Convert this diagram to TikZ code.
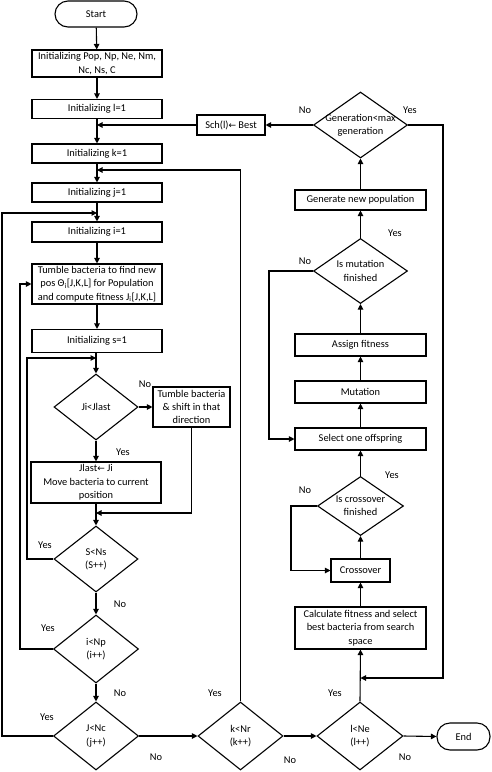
\documentclass[tikz,border=0pt]{standalone}
\usepackage{fontspec}
\setmainfont{Carlito}
\newfontfamily\arrowfont{DejaVu Sans}
\usetikzlibrary{shapes.geometric,arrows.meta}
\newcommand{\myleft}{{\arrowfont\fontsize{9}{10}\selectfont ←}}
\begin{document}
\begin{tikzpicture}[x=1pt,y=-1pt,
  font=\fontsize{10.4}{13.3}\selectfont,
  line width=1.1pt,
  box/.style={draw, rectangle, align=center, inner sep=1pt},
  term/.style={draw, rectangle, rounded corners=13pt, inner sep=1pt},
  dia/.style={draw, diamond, inner sep=0pt},
  arr/.style={-{Triangle[length=5.5pt,width=5.5pt]}},
  lbl/.style={inner sep=0pt}]
\useasboundingbox (0,0) rectangle (491,772);

% left column
\node[term, minimum width=82pt, minimum height=26pt] (start) at (96,14) {Start};
\node[box, minimum width=130pt, minimum height=27pt] (pop) at (97,63.5) {Initializing Pop, Np, Ne, Nm,\\Nc, Ns, C};
\node[box, minimum width=130pt, minimum height=19pt] (l1) at (97,109) {Initializing l=1};
\node[box, minimum width=130pt, minimum height=19pt] (k1) at (97,153.5) {Initializing k=1};
\node[box, minimum width=130pt, minimum height=19pt] (j1) at (97,192.5) {Initializing j=1};
\node[box, minimum width=130pt, minimum height=20pt] (i1) at (97,232) {Initializing i=1};
\node[box, minimum width=130pt, minimum height=40pt] (tumble) at (97,284) {Tumble bacteria to find new\\pos Θ\textsubscript{i}[J,K,L] for Population\\and compute fitness J\textsubscript{i}[J,K,L]};
\node[box, minimum width=130pt, minimum height=23pt] (s1) at (97,341) {Initializing s=1};
\node[dia, minimum width=84pt, minimum height=66pt, label={[align=center]center:Ji<Jlast}] (d1) at (96,407) {};
\node[box, minimum width=77pt, minimum height=40pt] (tb) at (191.5,407) {Tumble bacteria\\\& shift in that\\direction};
\node[box, minimum width=130pt, minimum height=41pt] (jl) at (96,482.5) {Jlast\myleft{} Ji\\Move bacteria to current\\position};
\node[dia, minimum width=84pt, minimum height=66pt, label={[align=center]center:S<Ns\\(S++)}] (d2) at (96,559) {};
\node[dia, minimum width=85pt, minimum height=68pt, label={[align=center]center:i<Np\\(i++)}] (d3) at (96,649) {};
\node[dia, minimum width=85pt, minimum height=68pt, label={[align=center]center:J<Nc\\(j++)}] (d4) at (96,736) {};
\node[dia, minimum width=85pt, minimum height=68pt, label={[align=center]center:k<Nr\\(k++)}] (d5) at (240.5,736) {};
\node[dia, minimum width=86pt, minimum height=68pt, label={[align=center]center:l<Ne\\(l++)}] (d6) at (360,736) {};
\node[term, minimum width=53pt, minimum height=27pt] (end) at (463.5,736.5) {End};

% right column
\node[box, minimum width=131pt, minimum height=42pt] (calc) at (360.5,628) {Calculate fitness and select\\best bacteria from search\\space};
\node[box, minimum width=59pt, minimum height=23pt] (cross) at (360.5,570.5) {Crossover};
\node[dia, minimum width=86pt, minimum height=59pt, label={[align=center]center:Is crossover\\finished}] (d7) at (360.5,506) {};
\node[box, minimum width=131pt, minimum height=22pt] (sel) at (360.5,439) {Select one offspring};
\node[box, minimum width=131pt, minimum height=22pt] (mut) at (360.5,392) {Mutation};
\node[box, minimum width=131pt, minimum height=22pt] (assign) at (360.5,345) {Assign fitness};
\node[dia, minimum width=94pt, minimum height=65pt, label={[align=center]center:Is mutation\\finished}] (d8) at (360.5,271) {};
\node[box, minimum width=131pt, minimum height=20pt] (gen) at (360.5,200) {Generate new population};
\node[dia, minimum width=94pt, minimum height=66pt, label={[align=center]center:Generation<max\\generation}] (g) at (360.5,125) {};
\node[box, minimum width=68pt, minimum height=20pt] (sch) at (231,125) {Sch(l)\myleft{} Best};

% junction coordinates
\coordinate (jA) at (97,125);
\coordinate (jB) at (97,170);
\coordinate (jC) at (97,213);
\coordinate (jD) at (96,358);
\coordinate (jE) at (96,513);
\coordinate (jF) at (360.5,678);

% yes / no labels
\node[lbl] (n1) at (145,384) {No};
\node[lbl] (y1) at (123,452) {Yes};
\node[lbl] (y2) at (45,545) {Yes};
\node[lbl] (n2) at (120,604) {No};
\node[lbl] (y3) at (48,628) {Yes};
\node[lbl] (n3) at (120,693) {No};
\node[lbl] (y4) at (47,717) {Yes};
\node[lbl] (n4) at (156,757) {No};
\node[lbl] (y5) at (215,693) {Yes};
\node[lbl] (n5) at (290,760) {No};
\node[lbl] (y6) at (335,693) {Yes};
\node[lbl] (n6) at (405,757) {No};
\node[lbl] (y7) at (392,475) {Yes};
\node[lbl] (n7) at (305,490) {No};
\node[lbl] (y8) at (395,233) {Yes};
\node[lbl] (n8) at (305,261) {No};
\node[lbl] (n9) at (305,110) {No};
\node[lbl] (y9) at (410,110) {Yes};

% connectors
\draw[arr] (start) -- (pop);
\draw[arr] (pop) -- (l1);
\draw[arr] (l1) -- (k1);
\draw[arr] (k1) -- (j1);
\draw[arr] (j1) -- (i1);
\draw[arr] (i1) -- (tumble);
\draw[arr] (tumble) -- (s1);
\draw[arr] (s1.south -| d1.north) -- (d1.north);
\draw[arr] (d1.east) -- (tb.west);
\draw[arr] (d1.south) -- (jl.north);
\draw[arr] (jl.south) -- (d2.north);
\draw[arr] (tb.south) |- (jE);
\draw[arr] (d2.west) -- (27,559) |- (jD);
\draw[arr] (d2.south) -- (d3.north);
\draw[arr] (d3.west) -- (20,649) |- (tumble.west);
\draw[arr] (d3.south) -- (d4.north);
\draw[arr] (d4.west) -- (2,736) |- (jC);
\draw[arr] (d4.east) -- (d5.west);
\draw[arr] (d5.north) |- (jB);
\draw[arr] (d5.east) -- (d6.west);
\draw[arr] (d6.east) -- (end.west);
\draw[arr] (d6.north) -- (calc.south);
\draw[arr] (g.east) -- (443,125) |- (jF);
\draw[arr] (calc.north) -- (cross.south);
\draw[arr] (cross.north) -- (d7.south);
\draw[arr] (d7.west) -- (291,506) |- (cross.west);
\draw[arr] (d7.north) -- (sel.south);
\draw[arr] (sel.north) -- (mut.south);
\draw[arr] (mut.north) -- (assign.south);
\draw[arr] (assign.north) -- (d8.south);
\draw[arr] (d8.west) -- (269,271) |- (sel.west);
\draw[arr] (d8.north) -- (gen.south);
\draw[arr] (gen.north) -- (g.south);
\draw[arr] (g.west) -- (sch.east);
\draw[arr] (sch.west) -- (jA);
\end{tikzpicture}
\end{document}
